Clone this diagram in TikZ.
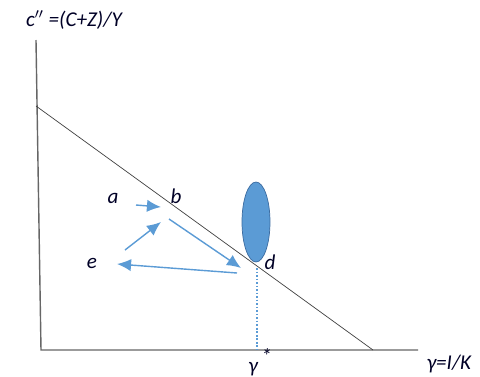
\documentclass[tikz,border=0pt]{standalone}
\usepackage{fontspec}
\setmainfont{Carlito}
\tikzset{
	lbl/.style = {font=\fontsize{12}{14}\selectfont\itshape, text=black!85!blue, inner sep=0pt},
	flow/.style = {draw=arrblue, thick, -{Latex[length=8pt, width=7pt]}}
}
\definecolor{arrblue}{HTML}{5B9BD5}
\definecolor{ovalblue}{HTML}{4A86C8}
\usetikzlibrary{arrows.meta}
\begin{document}
\begin{tikzpicture} [x = 0.02cm, y = -0.02cm]
	\useasboundingbox (0,0) rectangle (480,376);
	% axes
	\coordinate (top) at (36,40);
	\coordinate (o) at (41,350);
	\coordinate (xend) at (418,350);
	\draw [gray!80!black, thick] (top) -- (o) -- (xend);
	% budget line
	\coordinate (ylim) at (36,106);
	\coordinate (xlim) at (373,350);
	\draw [black!75] (ylim) -- (xlim);
	% oval and gamma*
	\draw [ovalblue!80!black, fill = arrblue] (256,222) ellipse (14 and 40);
	\draw [arrblue, line width = 0.6pt, dash pattern = on 1pt off 1pt] (257,268) -- (257,350);
	% labels
	\node [lbl] (ylab) at (74,20) {c$''$ =(C+Z)/Y};
	\node [lbl] (xlab) at (449,364) {γ=I/K};
	\node [lbl] (gstar) at (260,362) {γ\,\raisebox{0.9ex}{*}};
	\node [lbl] (a) at (113,198) {a};
	\node [lbl] (b) at (176,196) {b};
	\node [lbl] (e) at (92,263) {e};
	\node [lbl] (d) at (270,262) {d};
	% arrows
	\coordinate (a1) at (136,205);
	\coordinate (b1) at (161,207);
	\coordinate (b2) at (169,219);
	\coordinate (d1) at (241,268);
	\coordinate (d2) at (237,273);
	\coordinate (e1) at (117,264);
	\coordinate (e2) at (125,250);
	\coordinate (b3) at (161,222);
	\draw [flow] (a1) -- (b1);
	\draw [flow] (b2) -- (d1);
	\draw [flow] (d2) -- (e1);
	\draw [flow] (e2) -- (b3);
\end{tikzpicture}
\end{document}
